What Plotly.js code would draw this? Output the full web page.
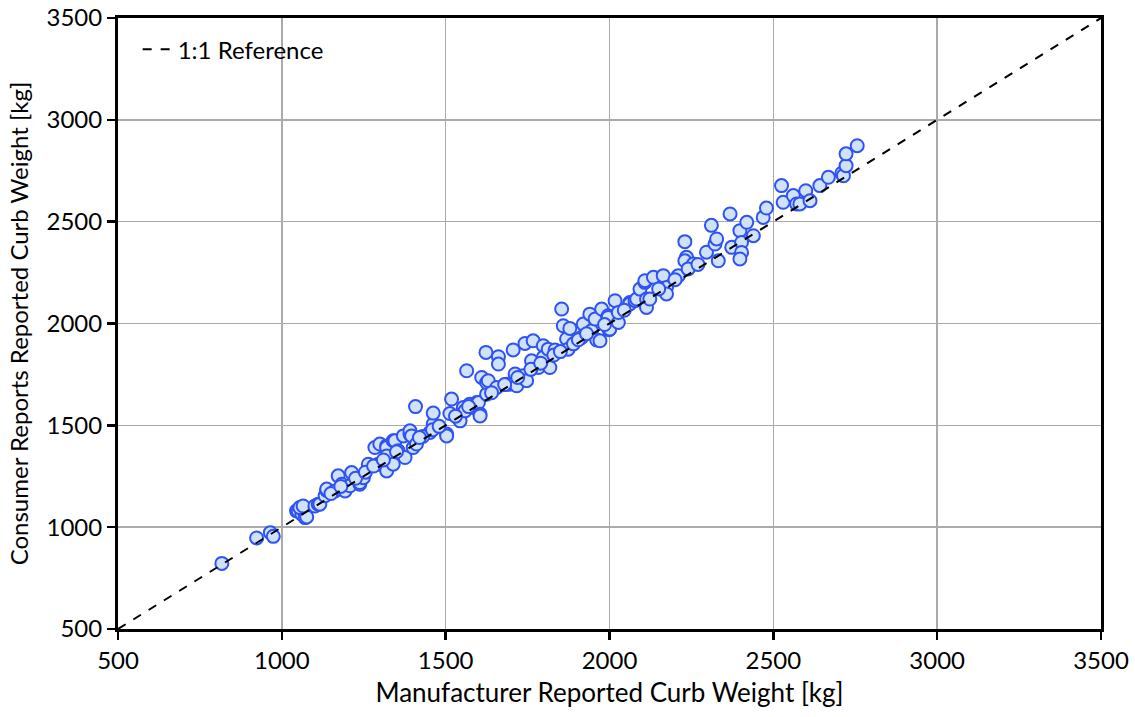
<!DOCTYPE html>
<html>
<head>
<meta charset="utf-8">
<script src="https://cdn.plot.ly/plotly-3.0.1.min.js"></script>
<style>html,body{margin:0;padding:0;background:#fff;}#chart{width:1135px;height:717px;}</style>
</head>
<body>
<div id="chart"></div>
<script>
// Manufacturer reported curb weight [kg]
const manufacturer = [
817,923,965,974,1045,1050,1061,1071,1076,1055,1065,1101,1111,1116,1132,1137,1137,1162,1172,1183,
1193,1208,1213,1238,1238,1249,1264,1284,1294,1299,1320,1320,1320,1320,1340,1340,1345,1355,1376,1371,
1391,1391,1396,1401,1408,1411,1452,1462,1462,1503,1503,1513,1518,1538,1544,1554,1559,1564,1574,1584,
1595,1600,1605,1605,1610,1623,1625,1625,1630,1656,1661,1661,1686,1696,1706,1706,1712,1717,1737,1742,
1747,1762,1767,1783,1798,1798,1813,1818,1834,1854,1859,1869,1874,1879,1915,1920,1940,1945,1956,1961,
1971,1976,1996,1996,1999,2001,2017,2027,2027,2062,2062,2078,2083,2093,2108,2108,2113,2113,2123,2134,
2164,2174,2174,2210,2230,2235,2230,2256,2240,2296,2311,2322,2327,2332,2368,2373,2398,2403,2403,2398,
2419,2439,2469,2479,2525,2530,2561,2571,2581,2599,2612,2642,2668,2709,2714,2722,2722,2756,
1430,1460,1480,1530,1570,1640,1680,1720,1760,1790,1830,1850,1890,1905,1930,1985,2045,2150,2200,2270,
1150,1180,1225,1255,1280,1310,1350,1420
];
// Consumer Reports reported curb weight [kg]
const consumer = [
822,947,973,955,1080,1078,1064,1047,1050,1096,1104,1104,1113,1113,1154,1180,1187,1178,1252,1211,
1178,1203,1268,1211,1219,1243,1309,1391,1309,1408,1399,1391,1276,1350,1424,1309,1424,1375,1342,1448,
1457,1473,1448,1391,1592,1408,1465,1506,1560,1457,1448,1558,1629,1538,1522,1587,1571,1768,1604,1588,
1612,1612,1555,1546,1735,1858,1653,1710,1719,1686,1837,1801,1702,1702,1870,1710,1752,1694,1743,1902,
1719,1817,1915,1784,1891,1834,1874,1784,1870,2071,1989,1924,1874,1976,1932,1997,2046,1964,2022,1919,
1915,2071,2038,2030,1969,1973,2112,2005,2054,2103,2096,2112,2120,2169,2202,2210,2120,2079,2120,2227,
2235,2177,2145,2235,2402,2325,2308,2292,2268,2350,2482,2390,2415,2308,2538,2374,2456,2398,2349,2317,
2497,2431,2521,2567,2677,2595,2628,2587,2587,2652,2603,2677,2718,2738,2726,2775,2833,2873,
1445,1478,1495,1545,1592,1660,1700,1735,1775,1805,1845,1862,1900,1920,1950,1995,2065,2170,2215,2290,
1165,1200,1240,1270,1300,1330,1370,1440
];
const refLine = [500, 3500];
const xTicks = [500,1000,1500,2000,2500,3000,3500];
const yTicks = [500,1000,1500,2000,2500,3000,3500];

const FONT = 'Lato, "Open Sans", "DejaVu Sans", sans-serif';

const traces = [
  {
    x: manufacturer, y: consumer, type: 'scatter', mode: 'markers',
    showlegend: false, hoverinfo: 'x+y',
    marker: {size: 13, color: '#d0e2f7', line: {color: '#2f52f5', width: 2}}
  },
  {
    x: refLine, y: refLine, type: 'scatter', mode: 'lines',
    name: '1:1 Reference',
    line: {color: '#000', width: 2, dash: 'dash'}
  }
];

const axisCommon = {
  showline: true, linecolor: '#000', linewidth: 3, mirror: true,
  ticks: 'outside', ticklen: 8, tickwidth: 2.5, tickcolor: '#000',
  showgrid: true, gridcolor: '#aaaaaa', gridwidth: 1.5,
  zeroline: false,
  tickfont: {family: FONT, size: 24, color: '#000'}
};

const layout = {
  width: 1135, height: 717,
  paper_bgcolor: '#fff', plot_bgcolor: '#fff',
  margin: {l: 118, r: 34, t: 18, b: 88},
  font: {family: FONT, color: '#000'},
  xaxis: Object.assign({}, axisCommon, {
    range: [500, 3500], tickvals: xTicks,
    title: {text: 'Manufacturer Reported Curb Weight [kg]', font: {family: FONT, size: 26, color: '#000'}, standoff: 12}
  }),
  yaxis: Object.assign({}, axisCommon, {
    range: [500, 3500], tickvals: yTicks,
    title: {text: 'Consumer Reports Reported Curb Weight [kg]', font: {family: FONT, size: 24, color: '#000'}, standoff: 12}
  }),
  legend: {
    x: 0.02, y: 0.985, xanchor: 'left', yanchor: 'top',
    bgcolor: 'rgba(0,0,0,0)', borderwidth: 0,
    font: {family: FONT, size: 24, color: '#000'}
  }
};

Plotly.newPlot('chart', traces, layout, {displayModeBar: false, staticPlot: true});
</script>
</body>
</html>
